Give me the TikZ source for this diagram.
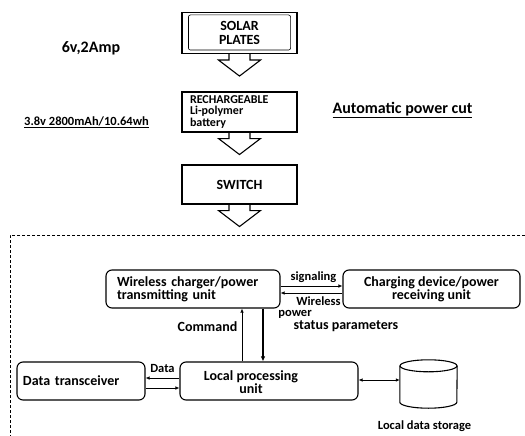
\documentclass[tikz,border=0pt]{standalone}
\usepackage{fontspec}
\setmainfont{Carlito}
\usetikzlibrary{arrows.meta}

\tikzset{
  box/.style={draw,line width=1.1pt,font=\fontsize{14}{12}\selectfont\bfseries,inner sep=0pt},
  unit/.style={box,rounded corners=6pt,minimum height=38},
  lbl/.style={font=\fontsize{12.5}{14}\selectfont\bfseries,inner sep=0pt},
  txt/.style={font=\fontsize{14}{16}\selectfont\bfseries,inner sep=0pt},
  head/.style={font=\fontsize{16}{18}\selectfont\bfseries,inner sep=0pt},
  sig/.style={-{Latex[length=4pt,width=3.5pt]},line width=0.7pt},
}

\begin{document}
\begin{tikzpicture}[x=1pt,y=-1pt]
  \useasboundingbox (0,0) rectangle (525,436);
  % supply side
  \node[box,minimum width=115,minimum height=41,align=center,font=\fontsize{14}{13.5}\selectfont\bfseries] (solar) at (239.5,33) {SOLAR\\PLATES};
  \draw[rounded corners=2pt,line width=0.6pt] ([shift={(7,3)}]solar.north west) rectangle ([shift={(-7,-4)}]solar.south east);
  \node[box,minimum width=115,minimum height=40,text width=99,align=left,inner xsep=8,
        font=\fontsize{12}{11.5}\selectfont\bfseries] (battery) at (239.5,112) {RECHARGEABLE\\Li-polymer\\battery};
  \node[box,minimum width=115,minimum height=39] (switch) at (239.5,184.5) {SWITCH};
  \foreach \b in {solar,battery,switch}
    \draw[line width=1.1pt] (\b.south) ++(-10.5,0) -- ++(0,6) -- ++(-10.5,0) -- ++(21,16) -- ++(21,-16) -- ++(-10.5,0) -- ++(0,-6);
  \node[head] (rating) at (91,48) {6v,2Amp};
  \node[lbl] (cell) at (86.5,122) {\underline{3.8v 2800mAh/10.64wh}};
  \node[head] (cut) at (402.5,110) {\underline{Automatic power cut}};

  % local system
  \draw[dashed,line width=0.8pt,dash pattern=on 3pt off 2pt] (525,235) -- (10,235) -- (10,436);
  \node[unit,minimum width=174,text width=152,inner xsep=11,align=left] (wireless) at (193,289) {Wireless charger/power\\transmitting unit};
  \node[unit,minimum width=177,align=center] (charging) at (431.5,289) {Charging device/power\\receiving unit};
  \node[unit,minimum width=178] (local) at (269,381) {};
  \node[txt,align=center,font=\fontsize{14}{12}\selectfont\bfseries] (localtxt) at (251,382) {Local processing\\unit};
  \node[unit,minimum width=128,text width=116,inner xsep=6,align=left] (transceiver) at (81,381) {Data transceiver};
  \node[minimum width=57,minimum height=48,inner sep=0pt] (storage) at (428.5,384) {};
  \draw[line width=1.1pt] ([yshift=-6pt]storage.north) ellipse [x radius=28.5,y radius=6];
  \draw[line width=1.1pt] ([yshift=-6pt]storage.north west) -- ([yshift=6pt]storage.south west)
    arc[start angle=180,end angle=0,x radius=28.5,y radius=6] -- ([yshift=-6pt]storage.north east);

  \draw[sig] (wireless.east |- 0,286) -- (charging.west |- 0,286);
  \draw[sig] (charging.west |- 0,293) -- (wireless.east |- 0,293);
  \draw[sig] (local.north -| 242,0) -- (wireless.south -| 242,0);
  \draw[-{Latex[length=5pt,width=4.5pt]},line width=1.6pt] (wireless.south -| 263,0) -- (local.north -| 263,0);
  \draw[sig] (local.west |- 0,378) -- (transceiver.east |- 0,378);
  \draw[sig] (transceiver.east |- 0,388) -- (local.west |- 0,388);
  \draw[sig,{Latex[length=4pt,width=3.5pt]}-{Latex[length=4pt,width=3.5pt]}] (local.east |- 0,380) -- (storage.west |- 0,380);

  \node[lbl] (signaling) at (313.5,277) {signaling};
  \node[lbl] (wl) at (318.5,301) {Wireless};
  \node[lbl] (pw) at (295,314) {power};
  \node[txt] (status) at (346,326) {status parameters};
  \node[txt] (command) at (207.5,327) {Command};
  \node[lbl] (data) at (162.5,368) {Data};
  \node[lbl] (storagelbl) at (424.5,426) {Local data storage};
\end{tikzpicture}
\end{document}
